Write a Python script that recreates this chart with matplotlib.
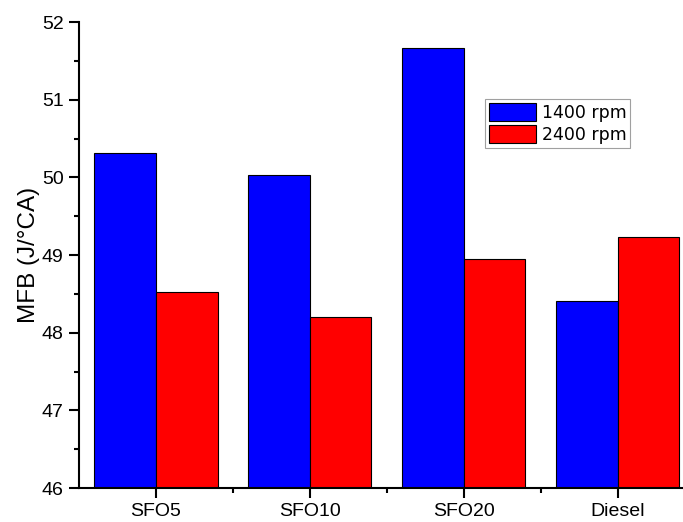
import numpy as np
import matplotlib.pyplot as plt
from matplotlib.ticker import MultipleLocator, FixedLocator

plt.rcParams['font.family'] = ['Liberation Sans', 'DejaVu Sans']

# MFB values for each fuel at the two engine speeds
fuels = ['SFO5', 'SFO10', 'SFO20', 'Diesel']
mfb_1400 = [50.31, 50.03, 51.66, 48.41]
mfb_2400 = [48.53, 48.20, 48.95, 49.23]
series_labels = ['1400 rpm', '2400 rpm']

fig = plt.figure(figsize=(6.83, 5.22), dpi=100)
ax = fig.add_axes([79/683, 1 - 488/522, (694.7 - 79)/683, (488 - 22)/522])

x = np.arange(len(fuels))
w = 0.4
ax.bar(x - w/2, mfb_1400, w, color='#0000ff', edgecolor='black', linewidth=0.8,
       label=series_labels[0])
ax.bar(x + w/2, mfb_2400, w, color='#ff0000', edgecolor='black', linewidth=0.8,
       label=series_labels[1])

ax.set_xlim(-0.5, 3.5)
ax.set_ylim(46, 52)
ax.set_xticks(x)
ax.set_xticklabels(fuels)
ax.xaxis.set_minor_locator(FixedLocator([0.5, 1.5, 2.5]))
ax.yaxis.set_major_locator(MultipleLocator(1))
ax.yaxis.set_minor_locator(MultipleLocator(0.5))

for s in ['top', 'right']:
    ax.spines[s].set_visible(False)
for s in ['left', 'bottom']:
    ax.spines[s].set_linewidth(1.5)

ax.tick_params(which='major', direction='out', length=7, width=1.5, labelsize=14)
ax.tick_params(which='minor', direction='out', length=3.5, width=1.5)
ax.tick_params(axis='x', pad=4)
ax.tick_params(axis='y', pad=4)

ax.set_ylabel('MFB (J/°CA)', fontsize=17.5)
ax.yaxis.set_label_coords(-0.064, 0.5)

leg = ax.legend(loc='upper left', bbox_to_anchor=(485/683, 1 - 99/522),
                bbox_transform=fig.transFigure, frameon=True,
                prop={'family': 'DejaVu Sans', 'size': 12.5},
                fancybox=False, edgecolor='#888888', borderpad=0.22,
                handlelength=2.7, handleheight=1.2, handletextpad=0.35,
                labelspacing=0.22, borderaxespad=0)
leg.get_frame().set_linewidth(0.8)

fig.savefig('out.png', dpi=100)
